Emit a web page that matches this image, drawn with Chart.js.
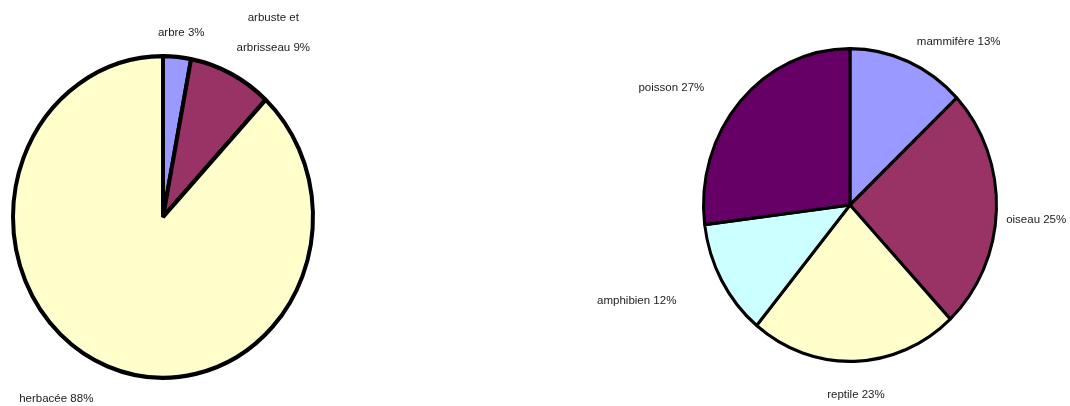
<!DOCTYPE html>
<html>
<head>
<meta charset="utf-8">
<script src="https://cdn.jsdelivr.net/npm/chart.js@4"></script>
<style>
  html, body { margin: 0; padding: 0; background: #fff; }
  #wrap { position: relative; width: 1070px; height: 406px; overflow: hidden; }
  #wrap canvas { position: absolute; top: 0; }
</style>
</head>
<body>
<div id="wrap">
  <canvas id="plantes" width="330" height="406" style="left:0"></canvas>
  <canvas id="animaux" width="510" height="406" style="left:560px"></canvas>
</div>
<script>
// végétaux
const plantLabels = [['arbre'], ['arbuste et', 'arbrisseau'], ['herbacée']];
const plantValues = [3, 9, 88];
const plantColors = ['#9999ff', '#993366', '#ffffcc'];

// animaux
const animalLabels = [['mammifère'], ['oiseau'], ['reptile'], ['amphibien'], ['poisson']];
const animalValues = [13, 25, 23, 12, 27];
const animalColors = ['#9999ff', '#993366', '#ffffcc', '#ccffff', '#660066'];

const FONT = '11.5px "Liberation Sans", Arial, sans-serif';

// squash the pie into a slightly tall ellipse
const ellipsePlugin = {
  id: 'ellipse',
  beforeDatasetsDraw(chart, args, opts) {
    const arc = chart.getDatasetMeta(0).data[0];
    const ctx = chart.ctx;
    ctx.save();
    ctx.translate(arc.x, arc.y);
    ctx.scale(1, opts.sy);
    ctx.translate(-arc.x, -arc.y);
  },
  afterDatasetsDraw(chart) {
    chart.ctx.restore();
  }
};

// "name NN%" labels outside each slice, Excel style
const outsideLabels = {
  id: 'outsideLabels',
  afterDraw(chart, args, opts) {
    const ctx = chart.ctx;
    const ds = chart.data.datasets[0];
    const total = ds.data.reduce((a, b) => a + b, 0);
    const meta = chart.getDatasetMeta(0);
    ctx.save();
    ctx.font = FONT;
    ctx.fillStyle = '#222';
    ctx.textBaseline = 'middle';
    meta.data.forEach((arc, i) => {
      const mid = (arc.startAngle + arc.endAngle) / 2;
      const r = arc.outerRadius * 1.08;
      const bx = arc.x + Math.cos(mid) * r;
      const by = arc.y + Math.sin(mid) * r * opts.sy;
      const nudge = opts.nudge[i] || [0, 0];
      const lines = chart.data.labels[i].slice();
      const pct = Math.round(ds.data[i] / total * 100) + '%';
      lines[lines.length - 1] += ' ' + pct;
      const widths = lines.map(l => ctx.measureText(l).width);
      const w = Math.max(...widths);
      const s = Math.cos(mid);
      let cx = bx + nudge[0];
      if (s > 0.2) cx += w / 2;
      else if (s < -0.2) cx -= w / 2;
      const lh = opts.lineHeight;
      const top = by + nudge[1] - (lines.length - 1) * lh / 2;
      ctx.textAlign = 'center';
      lines.forEach((l, k) => ctx.fillText(l, cx, top + k * lh));
    });
    ctx.restore();
  }
};

Chart.register(ellipsePlugin, outsideLabels);

function makePie(id, labels, values, colors, cfg) {
  return new Chart(document.getElementById(id), {
    type: 'pie',
    data: {
      labels: labels,
      datasets: [{
        data: values,
        backgroundColor: colors,
        borderColor: '#000',
        borderWidth: cfg.border,
        radius: cfg.radius,
        clip: false
      }]
    },
    options: {
      responsive: false,
      animation: false,
      events: [],
      layout: { padding: cfg.padding },
      plugins: {
        legend: { display: false },
        tooltip: { enabled: false },
        ellipse: { sy: cfg.sy },
        outsideLabels: { sy: cfg.sy, nudge: cfg.nudge, lineHeight: 30 }
      }
    }
  });
}

makePie('plantes', plantLabels, plantValues, plantColors, {
  border: 4,
  radius: 150,
  sy: 1.072,
  padding: { left: 0, right: 4, top: 28, bottom: 0 },
  nudge: [[3, -11], [0, -29], [-10, 20]]
});

makePie('animaux', animalLabels, animalValues, animalColors, {
  border: 3,
  radius: 146.5,
  sy: 1.068,
  padding: { left: 70, right: 0, top: 4, bottom: 0 },
  nudge: [[4, -8], [-2, 10], [1, 21], [-35, 14], [-27, -5]]
});
</script>
</body>
</html>
